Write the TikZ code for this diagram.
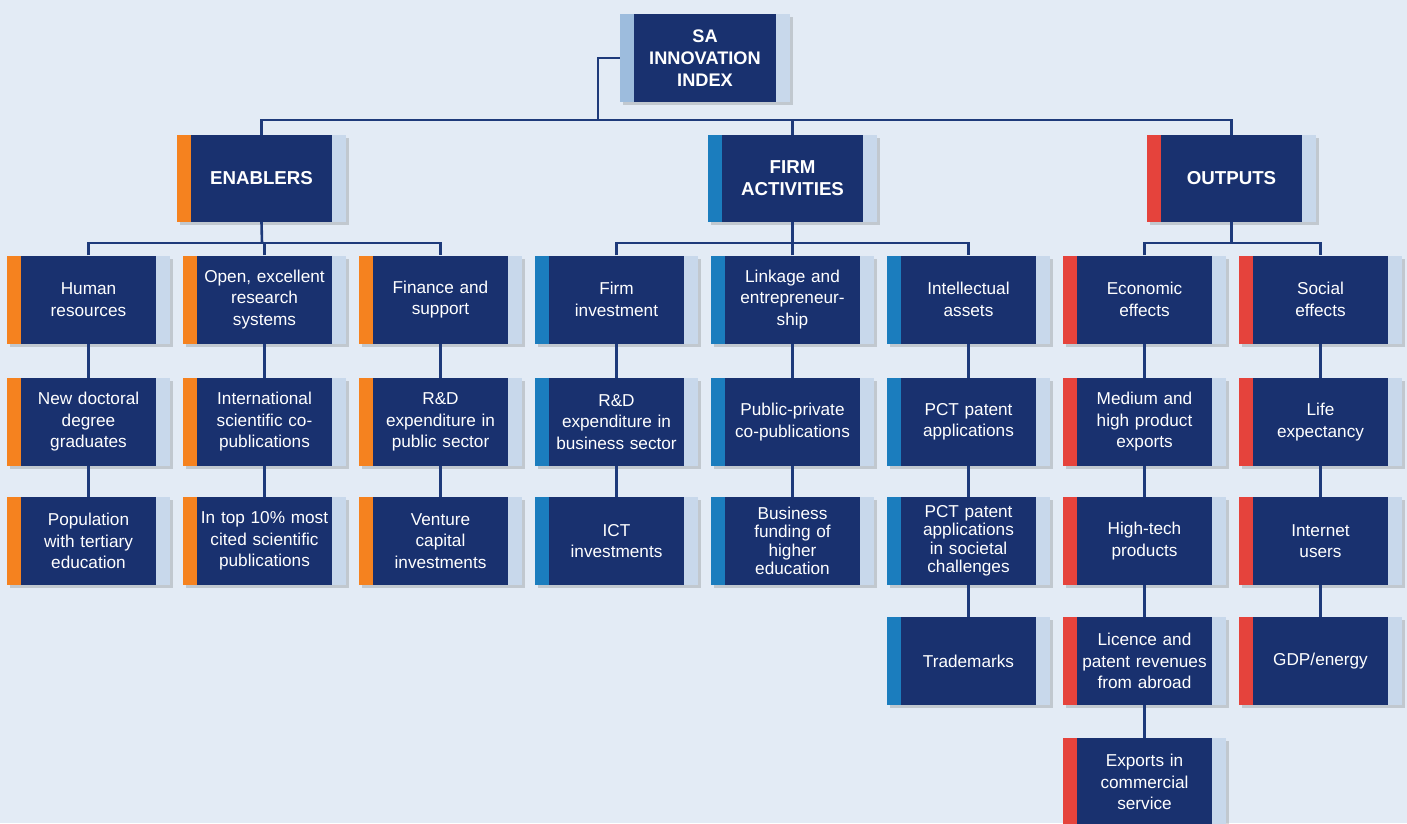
\documentclass[tikz,border=0pt]{standalone}
\usepackage{fontspec}
\setmainfont{Liberation Sans}
\usetikzlibrary{shadows}
\definecolor{bg}{HTML}{E3EBF5}
\definecolor{navy}{HTML}{19316F}
\definecolor{stripO}{HTML}{F5821F}
\definecolor{stripB}{HTML}{1B7DBE}
\definecolor{stripR}{HTML}{E5433C}
\definecolor{stripL}{HTML}{C8D8EB}
\definecolor{stripT}{HTML}{9DBCDD}
\definecolor{conncol}{HTML}{1E3A7A}
\tikzset{
  box/.style={draw=none, fill=navy, inner sep=0pt, minimum width=163pt, minimum height=88pt,
    text width=140pt, align=center, text=white,
    font=\fontsize{17.2}{21.5}\selectfont,
    drop shadow={shadow xshift=3pt, shadow yshift=-3pt, opacity=0.22, fill=black!70},
    path picture={
      \fill[#1] (path picture bounding box.south west) rectangle ([xshift=14pt]path picture bounding box.north west);
      \fill[stripL] (path picture bounding box.south east) rectangle ([xshift=-14pt]path picture bounding box.north east);
    }},
  obox/.style={box=stripO},
  bbox/.style={box=stripB},
  rbox/.style={box=stripR},
  tight/.style={font=\fontsize{17.2}{18.5}\selectfont},
  cat/.style={box=#1, minimum width=169pt, minimum height=87pt, font=\bfseries\fontsize{18.7}{22}\selectfont},
  topbox/.style={box=stripT, minimum width=170pt, minimum height=88pt, font=\bfseries\fontsize{18.2}{22}\selectfont},
  conn/.style={draw=conncol, line width=2.6pt}
}
\begin{document}
\begin{tikzpicture}[x=1pt, y=-1pt]
\useasboundingbox (0,0) rectangle (1407,823);
\clip (0,0) rectangle (1407,823);
\fill[bg] (0,0) rectangle (1407,823);

\coordinate (b1) at (598,120);
\coordinate (e2) at (262,243);
\coordinate (f2) at (792.5,243);
\coordinate (o2) at (1231.5,243);

% nodes
\node[topbox] (top) at (705,58) {SA\\INNOVATION\\INDEX};
\node[cat=stripO] (enab) at (261.5,178.5) {ENABLERS};
\node[cat=stripB] (firm) at (792.5,178.5) {FIRM\\ACTIVITIES};
\node[cat=stripR] (outs) at (1231.5,178.5) {OUTPUTS};

% row 1
\node[obox] (hr) at (88.5,299.5) {Human\\resources};
\node[obox] (ores) at (264.5,299.5) {Open, excellent\\research\\systems};
\node[obox] (fin) at (440.5,299.5) {Finance and\\support};
\node[bbox] (finv) at (616.5,299.5) {Firm\\investment};
\node[bbox] (link) at (792.5,299.5) {Linkage and\\entrepreneur-\\ship};
\node[bbox] (ia) at (968.5,299.5) {Intellectual\\assets};
\node[rbox] (econ) at (1144.5,299.5) {Economic\\effects};
\node[rbox] (soc) at (1320.5,299.5) {Social\\effects};

% row 2
\node[obox] (ndoc) at (88.5,422) {New doctoral\\degree\\graduates};
\node[obox] (intl) at (264.5,422) {International\\scientific co-\\publications};
\node[obox] (rdpub) at (440.5,422) {R\&D\\expenditure in\\public sector};
\node[bbox] (rdbus) at (616.5,422) {R\&D\\expenditure in\\business sector};
\node[bbox] (ppc) at (792.5,422) {Public-private\\co-publications};
\node[bbox] (pct) at (968.5,422) {PCT patent\\applications};
\node[rbox] (med) at (1144.5,422) {Medium and\\high product\\exports};
\node[rbox] (life) at (1320.5,422) {Life\\expectancy};

% row 3
\node[obox] (pop) at (88.5,541) {Population\\with tertiary\\education};
\node[obox] (top10) at (264.5,541) {In top 10\% most\\cited scientific\\publications};
\node[obox] (vc) at (440.5,541) {Venture\\capital\\investments};
\node[bbox] (ict) at (616.5,541) {ICT\\investments};
\node[bbox,tight] (bfund) at (792.5,541) {Business\\funding of\\higher\\education};
\node[bbox,tight] (pcts) at (968.5,541) {PCT patent\\applications\\in societal\\challenges};
\node[rbox] (htech) at (1144.5,541) {High-tech\\products};
\node[rbox] (inet) at (1320.5,541) {Internet\\users};

% row 4
\node[bbox] (tm) at (968.5,661) {Trademarks};
\node[rbox] (lic) at (1144.5,661) {Licence and\\patent revenues\\from abroad};
\node[rbox] (gdp) at (1320.5,661) {GDP/energy};

% row 5
\node[rbox] (exp) at (1144.5,782) {Exports in\\commercial\\service};

% connectors
\begin{scope}[conn]
\draw (top.west) -| (b1);
\draw (enab.north) |- (b1) -| (outs.north);
\draw (b1) -| (firm.north);

\draw (enab.south) -- (e2);
\draw (hr.north) |- (e2) -| (fin.north);
\draw (ores.north) |- (e2);

\draw (firm.south) -- (f2);
\draw (finv.north) |- (f2) -| (ia.north);
\draw (link.north) -- (f2);

\draw (outs.south) -- (o2);
\draw (econ.north) |- (o2) -| (soc.north);

\draw (hr.south) -- (ndoc.north);
\draw (ndoc.south) -- (pop.north);
\draw (ores.south) -- (intl.north);
\draw (intl.south) -- (top10.north);
\draw (fin.south) -- (rdpub.north);
\draw (rdpub.south) -- (vc.north);
\draw (finv.south) -- (rdbus.north);
\draw (rdbus.south) -- (ict.north);
\draw (link.south) -- (ppc.north);
\draw (ppc.south) -- (bfund.north);
\draw (ia.south) -- (pct.north);
\draw (pct.south) -- (pcts.north);
\draw (pcts.south) -- (tm.north);
\draw (econ.south) -- (med.north);
\draw (med.south) -- (htech.north);
\draw (htech.south) -- (lic.north);
\draw (lic.south) -- (exp.north);
\draw (soc.south) -- (life.north);
\draw (life.south) -- (inet.north);
\draw (inet.south) -- (gdp.north);
\end{scope}
\end{tikzpicture}
\end{document}
